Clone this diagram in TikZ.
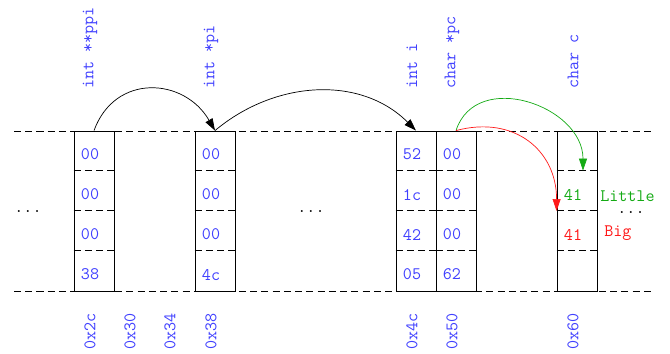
\documentclass[tikz,border=0pt]{standalone}
\usepackage{fontspec}
\usepackage{tikz}
\usetikzlibrary{positioning,calc}
\usetikzlibrary{arrows.meta}
\definecolor{PtrBlue}{RGB}{64,64,255}
\definecolor{LittleGreen}{RGB}{20,170,20}
\definecolor{BigRed}{RGB}{255,25,25}
\tikzset{
  word/.style={draw=black,fill=white,line width=0.6pt,minimum width=1cm,minimum height=4cm,inner sep=0pt},
  sep/.style={draw=black,line width=0.6pt,dash pattern=on 5pt off 3pt},
  byte/.style={text=PtrBlue,font=\ttfamily\fontsize{12.5}{14}\selectfont,inner sep=0pt},
  vname/.style={byte,rotate=90,anchor=west},
  addr/.style={byte,rotate=90,anchor=east},
}
\tikzset{ptr/.style={draw=black,line width=0.5pt,-{Triangle[length=3mm,width=2mm]}}, more/.style={byte,text=black,anchor=base}}

\begin{document}
\begin{tikzpicture}
\useasboundingbox (0,0) rectangle (16.75,8.825);
% memory band
\draw[sep] (0.35,5.55) -- (16.375,5.55);
\draw[sep] (0.35,1.55) -- (16.375,1.55);
\node[word] (ppi) at (2.35,3.55) {};
\node[word] (pi) at (5.375,3.55) {};
\node[word] (i) at (10.4,3.55) {};
\node[word] (pc) at (11.4,3.55) {};
\node[word] (c) at (14.425,3.55) {};
\foreach \w in {ppi,pi,i,pc,c}
  \foreach \k in {1,2,3}
    \draw[sep] ([yshift=-\k cm]\w.north west) -- ([yshift=-\k cm]\w.north east);
% bytes
\node[byte] (ppi0) at ([xshift=-1mm,yshift=-6mm]ppi.north) {00};
\node[byte] (ppi1) at ([xshift=-1mm,yshift=-16mm]ppi.north) {00};
\node[byte] (ppi2) at ([xshift=-1mm,yshift=-26mm]ppi.north) {00};
\node[byte] (ppi3) at ([xshift=-1mm,yshift=-36mm]ppi.north) {38};
\node[byte] (pi0) at ([xshift=-1mm,yshift=-6mm]pi.north) {00};
\node[byte] (pi1) at ([xshift=-1mm,yshift=-16mm]pi.north) {00};
\node[byte] (pi2) at ([xshift=-1mm,yshift=-26mm]pi.north) {00};
\node[byte] (pi3) at ([xshift=-1mm,yshift=-36mm]pi.north) {4c};
\node[byte] (i0) at ([xshift=-1mm,yshift=-6mm]i.north) {52};
\node[byte] (i1) at ([xshift=-1mm,yshift=-16mm]i.north) {1c};
\node[byte] (i2) at ([xshift=-1mm,yshift=-26mm]i.north) {42};
\node[byte] (i3) at ([xshift=-1mm,yshift=-36mm]i.north) {05};
\node[byte] (pc0) at ([xshift=-1mm,yshift=-6mm]pc.north) {00};
\node[byte] (pc1) at ([xshift=-1mm,yshift=-16mm]pc.north) {00};
\node[byte] (pc2) at ([xshift=-1mm,yshift=-26mm]pc.north) {00};
\node[byte] (pc3) at ([xshift=-1mm,yshift=-36mm]pc.north) {62};
\node[byte,text=LittleGreen] (c1) at ([xshift=-1mm,yshift=-16mm]c.north) {41};
\node[byte,text=BigRed] (c2) at ([xshift=-1mm,yshift=-26mm]c.north) {41};
\node[byte,text=LittleGreen,anchor=west] (little) at (15.0,3.925) {Little};
\node[byte,text=BigRed,anchor=west] (big) at (15.1,3.0) {Big};
% names and addresses
\node[vname] (nppi) at (2.25,6.6) {int **ppi};
\node[vname] (npi) at (5.275,6.6) {int *pi};
\node[vname] (ni) at (10.3,6.6) {int i};
\node[vname] (npc) at (11.3,6.6) {char *pc};
\node[vname] (nc) at (14.325,6.6) {char c};
\node[addr] (a2c) at (2.25,1.0) {0x2c};
\node[addr] (a30) at (3.25,1.0) {0x30};
\node[addr] (a34) at (4.25,1.0) {0x34};
\node[addr] (a38) at (5.275,1.0) {0x38};
\node[addr] (a4c) at (10.3,1.0) {0x4c};
\node[addr] (a50) at (11.3,1.0) {0x50};
\node[addr] (a60) at (14.325,1.0) {0x60};
\node[more] (dleft) at (0.7,3.525) {...};
\node[more] (dmid) at (7.775,3.525) {...};
\node[more] (dright) at (15.775,3.49) {...};
% pointers
\coordinate (cLow) at ([xshift=1.5mm,yshift=-1cm]c.north);
\draw[ptr] (ppi.north) to[out=70,in=120,looseness=1.3] (pi.north);
\draw[ptr] (pi.north) to[out=40,in=135] (i.north);
\draw[ptr,draw=LittleGreen] (pc.north) to[out=72,in=90,looseness=1.25] (cLow);
\draw[ptr,draw=BigRed] (pc.north) to[out=15,in=90,looseness=1.2] (c.west);
\end{tikzpicture}
\end{document}
